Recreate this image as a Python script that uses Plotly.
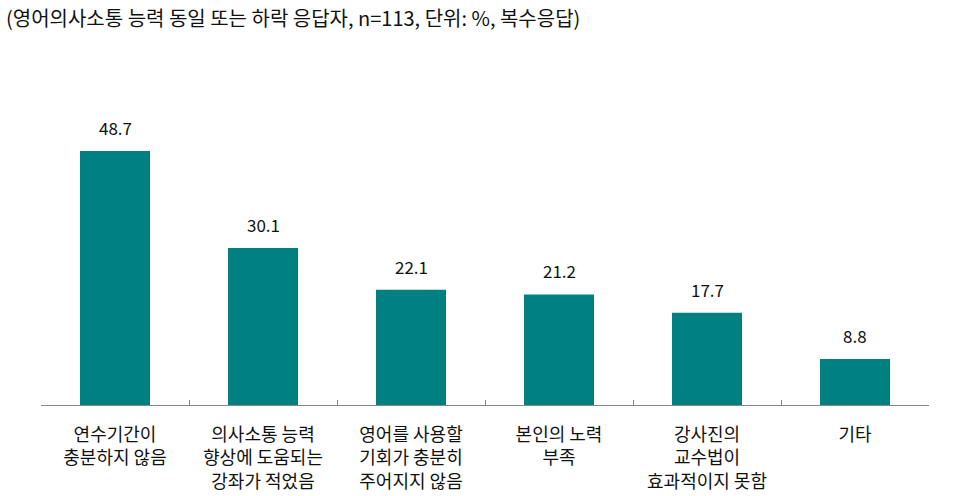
import plotly.graph_objects as go

categories = [
    "연수기간이<br>충분하지 않음",
    "의사소통 능력<br>향상에 도움되는<br>강좌가 적었음",
    "영어를 사용할<br>기회가 충분히<br>주어지지 않음",
    "본인의 노력<br>부족",
    "강사진의<br>교수법이<br>효과적이지 못함",
    "기타",
]
values = [48.7, 30.1, 22.1, 21.2, 17.7, 8.8]
value_labels = ["48.7", "30.1", "22.1", "21.2", "17.7", "8.8"]
title_text = "(영어의사소통 능력 동일 또는 하락 응답자, n=113, 단위: %, 복수응답)"

FONT = "Noto Sans CJK KR, Malgun Gothic, sans-serif"
BAR_COLOR = "#008080"

fig = go.Figure()
fig.add_trace(go.Bar(
    x=categories, y=values,
    marker=dict(color=BAR_COLOR, line=dict(width=0)),
    hoverinfo="skip",
))

for c, v, t in zip(categories, values, value_labels):
    fig.add_annotation(x=c, y=v, text=t, showarrow=False, yanchor="bottom",
                       yshift=9, font=dict(family=FONT, size=17, color="#111"))

fig.add_annotation(xref="paper", yref="paper", x=0, xshift=-37, y=1, yshift=75,
                   text=title_text, showarrow=False, xanchor="left", yanchor="middle",
                   font=dict(family=FONT, size=20, color="#111"))

fig.update_layout(
    width=962, height=496,
    margin=dict(l=41, r=33, t=92, b=91, autoexpand=False),
    paper_bgcolor="white", plot_bgcolor="white",
    bargap=0.527,
    showlegend=False,
    font=dict(family=FONT, size=18, color="#111"),
)
fig.update_xaxes(
    automargin=False,
    showline=True, linecolor="#888", linewidth=1.3,
    ticks="inside", ticklen=5, tickcolor="#888", tickwidth=1.3,
    tickson="boundaries",
    tickfont=dict(family=FONT, size=18, color="#111"),
    ticklabelstandoff=13,
    showgrid=False, zeroline=False,
)
fig.update_yaxes(range=[0, 60], visible=False, showgrid=False, zeroline=False)

fig.write_html("out.html")
